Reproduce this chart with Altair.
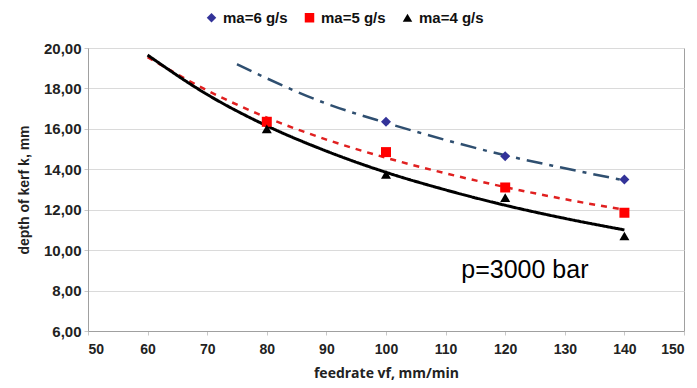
import altair as alt
import pandas as pd

# measured points
series = ["ma=6 g/s", "ma=5 g/s", "ma=4 g/s"]
x6 = [100, 120, 140]
y6 = [16.35, 14.65, 13.5]
x5 = [80, 100, 120, 140]
y5 = [16.35, 14.85, 13.1, 11.85]
x4 = [80, 100, 120, 140]
y4 = [16.0, 13.75, 12.6, 10.7]

# trend curves
tx6 = [75, 80, 90, 100, 110, 120, 130, 140]
ty6 = [19.2, 18.5, 17.25, 16.3, 15.45, 14.69, 14.05, 13.45]
tx5 = [60, 70, 80, 90, 100, 110, 120, 130, 140]
ty5 = [19.55, 17.9, 16.56, 15.47, 14.57, 13.8, 13.12, 12.52, 12.0]
tx4 = [60, 70, 80, 90, 100, 110, 120, 130, 140]
ty4 = [19.65, 17.7, 16.15, 14.9, 13.85, 12.98, 12.22, 11.57, 11.0]

colors = ["#333399", "#FF0000", "#000000"]
shapes = ["diamond", "square", "triangle-up"]

pts = pd.DataFrame(
    [{"x": a, "y": b, "s": series[0]} for a, b in zip(x6, y6)]
    + [{"x": a, "y": b, "s": series[1]} for a, b in zip(x5, y5)]
    + [{"x": a, "y": b, "s": series[2]} for a, b in zip(x4, y4)]
)

FONT = "Liberation Sans"
xs = alt.Scale(domain=[50, 150], nice=False)
ys = alt.Scale(domain=[6, 20], nice=False)

xax = alt.Axis(values=list(range(50, 151, 10)), title="feedrate vf, mm/min", grid=False,
               labelFont=FONT, labelFontSize=14, labelFontWeight="bold", labelColor="#222",
               titleFont="Open Sans", titleFontSize=14, titleFontWeight="bold", titleColor="#222",
               domainColor="#A0A0A0", tickColor="#C8C8C8", tickSize=4,
               labelPadding=7, titlePadding=10)
yax = alt.Axis(values=list(range(6, 21, 2)), title="depth of kerf k, mm", grid=True,
               gridColor="#DADADA", gridWidth=1,
               labelExpr="replace(format(datum.value, '.2f'), '.', ',')",
               labelFont=FONT, labelFontSize=15, labelFontWeight="bold", labelColor="#222",
               titleFont=FONT, titleFontSize=14, titleFontWeight="bold", titleColor="#222",
               domainColor="#A0A0A0", tickColor="#C8C8C8", tickSize=4,
               labelPadding=3, titlePadding=12)


def trend(xv, yv, color, dash, width):
    df = pd.DataFrame({"x": xv, "y": yv})
    return alt.Chart(df).mark_line(color=color, strokeDash=dash, strokeWidth=width,
                                   interpolate="monotone").encode(
        x=alt.X("x:Q", scale=xs, axis=xax),
        y=alt.Y("y:Q", scale=ys, axis=yax),
    )


l6 = trend(tx6, ty6, "#2F4F70", [16, 7, 4, 7], 2.5)
l5 = trend(tx5, ty5, "#E02020", [6, 6], 2.5)
l4 = trend(tx4, ty4, "#000000", [1, 0], 3)

points = alt.Chart(pts).mark_point(filled=True, opacity=1, size=100).encode(
    x=alt.X("x:Q", scale=xs, axis=xax),
    y=alt.Y("y:Q", scale=ys, axis=yax),
    color=alt.Color("s:N", scale=alt.Scale(domain=series, range=colors), title=None,
                    legend=alt.Legend(orient="none", legendX=114, legendY=-40,
                                      direction="horizontal", columns=3,
                                      labelFont=FONT, labelFontSize=15, labelFontWeight="bold",
                                      labelColor="#111", symbolSize=90, columnPadding=14,
                                      labelOffset=4, padding=2)),
    shape=alt.Shape("s:N", scale=alt.Scale(domain=series, range=shapes), title=None),
)

note = alt.Chart(pd.DataFrame({"x": [123.3], "y": [9.0], "t": ["p=3000 bar"]})).mark_text(
    font=FONT, fontSize=25, color="#000", align="center", baseline="middle"
).encode(x=alt.X("x:Q", scale=xs), y=alt.Y("y:Q", scale=ys), text="t:N")

chart = alt.layer(l6, l5, l4, points, note).properties(
    width=596, height=283,
    autosize=alt.AutoSizeParams(type="none"),
    padding={"left": 80, "top": 40, "right": 5, "bottom": 49},
    background="white",
).configure_view(stroke="#A0A0A0", strokeWidth=1)

chart.save("out.html", embed_options={"renderer": "svg", "actions": False})
